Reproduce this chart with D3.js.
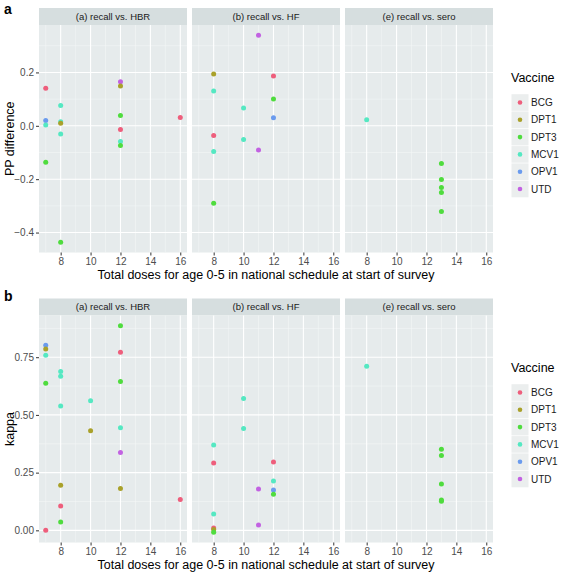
<!DOCTYPE html>
<html><head><meta charset="utf-8">
<script src="https://cdn.jsdelivr.net/npm/d3@7"></script>
<style>body{margin:0;background:#fff;} text{font-family:"Liberation Sans",Arial,sans-serif;}</style>
</head><body><svg id="c" width="567" height="576"></svg>
<script>
const vaccines = ["BCG","DPT1","DPT3","MCV1","OPV1","UTD"];
const vaccineColors = ["#EE5E7C","#A9A12A","#4FDC3E","#55E8C2","#6A9BEE","#C262E2"];
const facets = ["(a) recall vs. HBR","(b) recall vs. HF","(e) recall vs. sero"];
const xTicks = [8,10,12,14,16];

// Panel a: PP difference  [doses, vaccine, value]
const ppHBR = [[7,"BCG",0.141],[7,"OPV1",0.020],[7,"MCV1",0.003],[7,"DPT3",-0.137],
  [8,"MCV1",0.076],[8,"MCV1",0.015],[8,"DPT1",0.010],[8,"MCV1",-0.031],[8,"DPT3",-0.436],
  [12,"UTD",0.165],[12,"DPT1",0.149],[12,"DPT3",0.039],[12,"BCG",-0.014],[12,"MCV1",-0.059],[12,"DPT3",-0.074],
  [16,"BCG",0.031]];
const ppHF = [[11,"UTD",0.339],[8,"DPT1",0.194],[12,"BCG",0.187],[8,"MCV1",0.130],[12,"DPT3",0.100],
  [10,"MCV1",0.067],[12,"OPV1",0.030],[8,"BCG",-0.036],[10,"MCV1",-0.051],[8,"MCV1",-0.096],
  [11,"UTD",-0.091],[8,"DPT3",-0.290]];
const ppSero = [[8,"MCV1",0.0225],[13,"DPT3",-0.141],[13,"DPT3",-0.201],[13,"DPT3",-0.231],[13,"DPT3",-0.250],[13,"DPT3",-0.321]];
const ppTicks = [-0.4,-0.2,0.0,0.2];
const ppMinor = [-0.3,-0.1,0.1,0.3];

// Panel b: kappa  [doses, vaccine, value]
const kHBR = [[12,"DPT3",0.886],[7,"OPV1",0.802],[7,"DPT1",0.786],[7,"MCV1",0.759],[7,"DPT3",0.637],
  [8,"MCV1",0.688],[8,"MCV1",0.668],[8,"MCV1",0.539],[12,"BCG",0.772],[12,"DPT3",0.645],
  [10,"MCV1",0.561],[10,"DPT1",0.431],[12,"MCV1",0.444],[12,"UTD",0.337],[8,"DPT1",0.195],
  [12,"DPT1",0.181],[16,"BCG",0.134],[8,"BCG",0.105],[8,"DPT3",0.036],[7,"BCG",0.000]];
const kHF = [[10,"MCV1",0.571],[10,"MCV1",0.441],[8,"MCV1",0.370],[8,"BCG",0.292],[12,"BCG",0.296],
  [12,"MCV1",0.214],[11,"UTD",0.179],[12,"OPV1",0.175],[12,"DPT3",0.156],[8,"MCV1",0.071],
  [11,"UTD",0.023],[8,"BCG",0.010],[8,"DPT1",0.004],[8,"DPT3",-0.008]];
const kSero = [[8,"MCV1",0.711],[13,"DPT3",0.351],[13,"DPT3",0.324],[13,"DPT3",0.201],[13,"DPT3",0.131],[13,"DPT3",0.126]];
const kTicks = [0.00,0.25,0.50,0.75];
const kMinor = [0.125,0.375,0.625,0.875];

const svg = d3.select("#c");
const color = d3.scaleOrdinal(vaccines, vaccineColors);
const facetX = [39,192,345], facetW = 148;
const allDoses = [...ppHBR,...ppHF,...ppSero].map(d=>d[0]);
const xmin = d3.min(allDoses), xmax = d3.max(allDoses), xpad = (xmax-xmin)*0.05;

function drawPanel(o){
  const all = o.data.flat().map(d=>d[2]);
  const ymn = d3.min(all), ymx = d3.max(all), yp = (ymx-ymn)*0.05;
  const y = d3.scaleLinear([ymn-yp, ymx+yp],[o.bottom, o.top]);
  // letter
  svg.append("text").attr("x",4).attr("y",o.letterY).attr("font-size",14).attr("font-weight","bold").text(o.letter);
  o.data.forEach((rows,i)=>{
    const x0 = facetX[i];
    const x = d3.scaleLinear([xmin-xpad, xmax+xpad],[x0, x0+facetW]);
    // strip
    svg.append("rect").attr("x",x0).attr("y",o.top-17).attr("width",facetW).attr("height",17).attr("fill","#D6DEDF");
    svg.append("text").attr("x",x0+facetW/2).attr("y",o.top-5.5).attr("text-anchor","middle")
      .attr("font-size",9.5).attr("fill","#1A1A1A").text(facets[i]);
    // panel
    svg.append("rect").attr("x",x0).attr("y",o.top).attr("width",facetW).attr("height",o.bottom-o.top).attr("fill","#E6EBEC");
    const g = svg.append("g");
    [7,9,11,13,15].forEach(v=>g.append("line").attr("x1",x(v)).attr("x2",x(v)).attr("y1",o.top).attr("y2",o.bottom).attr("stroke","#F4F6F6").attr("stroke-width",0.6));
    o.minor.forEach(v=>g.append("line").attr("x1",x0).attr("x2",x0+facetW).attr("y1",y(v)).attr("y2",y(v)).attr("stroke","#F4F6F6").attr("stroke-width",0.6));
    xTicks.forEach(v=>g.append("line").attr("x1",x(v)).attr("x2",x(v)).attr("y1",o.top).attr("y2",o.bottom).attr("stroke","#fff").attr("stroke-width",1.1));
    o.ticks.forEach(v=>g.append("line").attr("x1",x0).attr("x2",x0+facetW).attr("y1",y(v)).attr("y2",y(v)).attr("stroke","#fff").attr("stroke-width",1.1));
    // x axis
    const xa = svg.append("g").attr("transform",`translate(0,${o.bottom})`)
      .call(d3.axisBottom(x).tickValues(xTicks).tickSize(3).tickPadding(2).tickFormat(d3.format("d")));
    xa.select(".domain").remove();
    xa.selectAll("line").attr("stroke","#333");
    xa.selectAll("text").attr("font-size",10).attr("fill","#4D4D4D").attr("font-family","Liberation Sans, Arial, sans-serif");
    if(i===0){
      const ya = svg.append("g").attr("transform",`translate(${x0},0)`)
        .call(d3.axisLeft(y).tickValues(o.ticks).tickSize(3).tickPadding(2).tickFormat(o.fmt));
      ya.select(".domain").remove();
      ya.selectAll("line").attr("stroke","#333");
      ya.selectAll("text").attr("font-size",10).attr("fill","#4D4D4D").attr("font-family","Liberation Sans, Arial, sans-serif");
    }
    svg.append("g").selectAll("circle").data(rows).join("circle")
      .attr("cx",d=>x(d[0])).attr("cy",d=>y(d[2])).attr("r",2.5).attr("fill",d=>color(d[1]));
  });
  // axis titles
  svg.append("text").attr("x",(facetX[0]+facetX[2]+facetW)/2).attr("y",o.bottom+26).attr("text-anchor","middle")
    .attr("font-size",12.5).attr("fill","#000").text("Total doses for age 0-5 in national schedule at start of survey");
  svg.append("text").attr("transform",`translate(14,${(o.top+o.bottom)/2}) rotate(-90)`).attr("text-anchor","middle")
    .attr("font-size",12.5).attr("fill","#000").text(o.ylab);
  // legend
  const lg = svg.append("g");
  lg.append("text").attr("x",511).attr("y",o.legY-12).attr("font-size",12.5).text("Vaccine");
  vaccines.forEach((v,k)=>{
    const cy = o.legY+ k*17.3 + 8.5;
    lg.append("rect").attr("x",511.5).attr("y",cy-8.3).attr("width",17).attr("height",16.6).attr("fill","#EBEEEE");
    lg.append("circle").attr("cx",520).attr("cy",cy).attr("r",2.3).attr("fill",color(v));
    lg.append("text").attr("x",531).attr("y",cy+3.5).attr("font-size",10).attr("fill","#1A1A1A").text(v);
  });
}

drawPanel({letter:"a", letterY:14, top:25, bottom:252.5, data:[ppHBR,ppHF,ppSero], ticks:ppTicks, minor:ppMinor,
  fmt:d3.format(".1f"), ylab:"PP difference", legY:94});
drawPanel({letter:"b", letterY:301, top:315.5, bottom:542.5, data:[kHBR,kHF,kSero], ticks:kTicks, minor:kMinor,
  fmt:d3.format(".2f"), ylab:"kappa", legY:384});
</script></body></html>
